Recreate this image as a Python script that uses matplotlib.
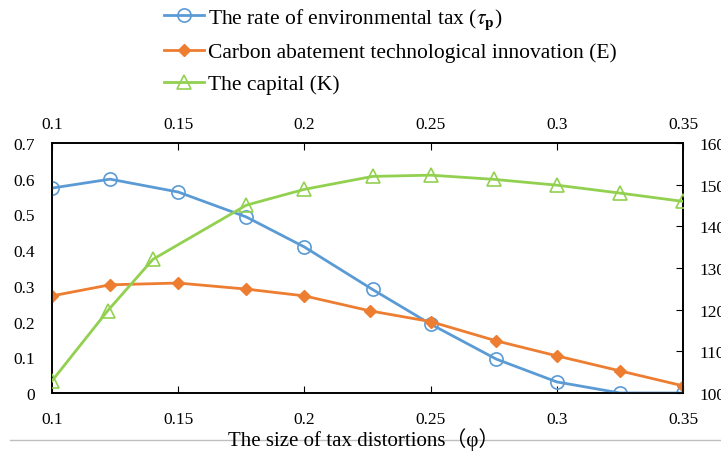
"""Tax distortions vs. environmental tax, abatement innovation and capital."""

import matplotlib
matplotlib.use("Agg")
import matplotlib.pyplot as plt
from matplotlib.lines import Line2D
from matplotlib.ticker import FuncFormatter, MultipleLocator, FixedLocator

plt.rcParams["font.family"] = ["Liberation Serif", "DejaVu Serif"]
plt.rcParams["mathtext.fontset"] = "stix"

# data
phi_tax = [0.1, 0.123, 0.15, 0.177, 0.2, 0.227, 0.25, 0.276, 0.3, 0.325, 0.35]
tax_rate = [0.574, 0.599, 0.563, 0.493, 0.409, 0.290, 0.193, 0.095, 0.031, 0.0, 0.0]

phi_innov = [0.1, 0.123, 0.15, 0.177, 0.2, 0.226, 0.25, 0.276, 0.3, 0.325, 0.35]
innovation = [0.272, 0.303, 0.308, 0.291, 0.272, 0.230, 0.200, 0.146, 0.104, 0.062, 0.020]

phi_cap = [0.1, 0.122, 0.14, 0.177, 0.2, 0.227, 0.25, 0.275, 0.3, 0.325, 0.35]
capital = [102.9, 119.7, 132.1, 145.1, 148.9, 152.0, 152.3, 151.3, 149.9, 148.0, 146.0]

x_ticks = [0.1, 0.15, 0.2, 0.25, 0.3, 0.35]

BLUE = "#5B9BD5"
ORANGE = "#ED7D31"
GREEN = "#92D050"

fig = plt.figure(figsize=(7.21, 4.56), dpi=100)
ax = fig.add_axes([0.0721, 0.136, 0.8752, 0.548])
ax2 = ax.twinx()

l1, = ax.plot(phi_tax, tax_rate, color=BLUE, lw=2, marker="o", ms=9.5,
              mfc="none", mec=BLUE, mew=1.2, zorder=3)
l2, = ax.plot(phi_innov, innovation, color=ORANGE, lw=2, marker="D", ms=6.5,
              mfc=ORANGE, mec=ORANGE, zorder=3)
l3, = ax2.plot(phi_cap, capital, color=GREEN, lw=2, marker="^", ms=10.5,
               mfc="none", mec=GREEN, mew=1.2, zorder=3)

fmt = FuncFormatter(lambda v, p: f"{v:g}")

ax.set_xlim(0.1, 0.35)
ax.set_ylim(0, 0.7)
ax.xaxis.set_major_locator(FixedLocator(x_ticks))
ax.yaxis.set_major_locator(MultipleLocator(0.1))
ax.xaxis.set_major_formatter(fmt)
ax.yaxis.set_major_formatter(fmt)
ax2.set_ylim(100, 160)
ax2.yaxis.set_major_locator(MultipleLocator(10))

ax.tick_params(axis="x", direction="in", length=5, top=True,
               labelsize=12.5, pad=13)
ax.tick_params(axis="y", direction="in", length=0, labelsize=12.5, pad=12)
ax2.tick_params(axis="y", direction="in", length=5, labelsize=12.5, pad=12)

# top labels sit a bit closer to the frame than the bottom ones
top = ax.secondary_xaxis("top")
top.xaxis.set_major_locator(FixedLocator(x_ticks))
top.xaxis.set_major_formatter(fmt)
top.tick_params(length=0, labelsize=12.5, pad=8)
top.spines["top"].set_visible(False)

for a in (ax, ax2):
    for s in a.spines.values():
        s.set_linewidth(1.2)

fig.text(0.505, 0.035, "The size of tax distortions（φ）", ha="center",
         va="center", fontsize=15,
         family=["Liberation Serif", "Noto Sans CJK SC", "DejaVu Serif"])
fig.add_artist(Line2D([0.014, 1.0], [0.033, 0.033], transform=fig.transFigure,
                      color="#BFBFBF", lw=1, zorder=0))

fig.legend([l1, l2, l3],
           [r"The rate of environmental tax ($\tau_\mathbf{p}$)",
            "Carbon abatement technological innovation (E)",
            "The capital (K)"],
           loc="upper left", bbox_to_anchor=(0.2, 1.027), frameon=False,
           fontsize=15.5, handlelength=1.9, handletextpad=0.15,
           labelspacing=0.55)

fig.savefig("out.png", dpi=100)
